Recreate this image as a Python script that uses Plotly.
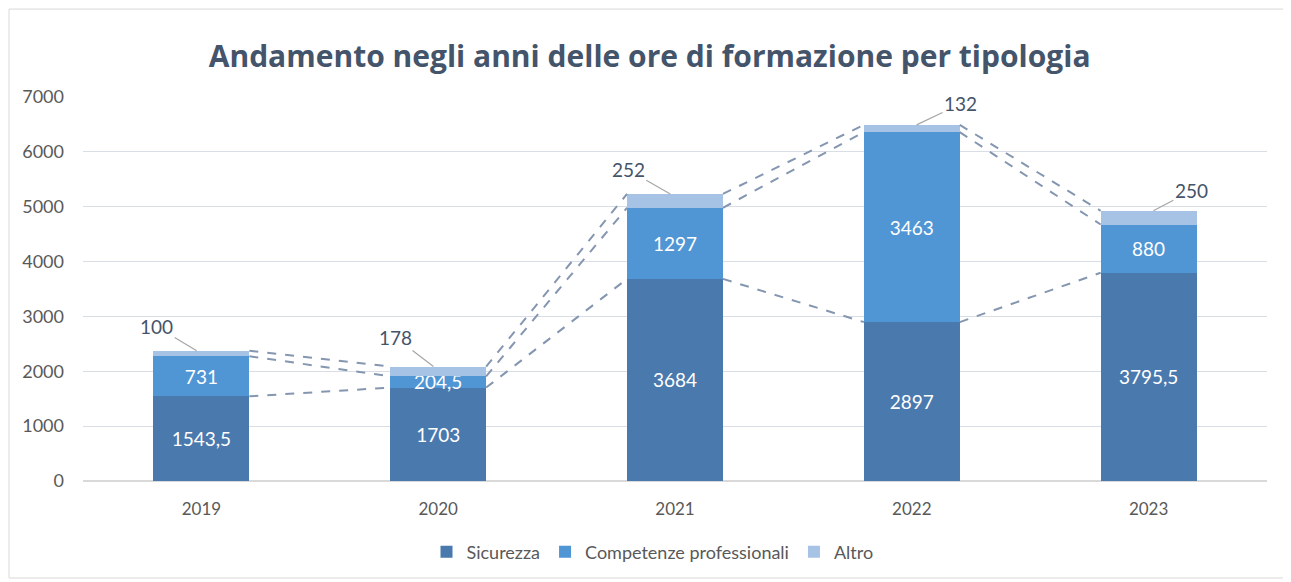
import plotly.graph_objects as go

anni = ["2019", "2020", "2021", "2022", "2023"]
sicurezza = [1543.5, 1703, 3684, 2897, 3795.5]
competenze = [731, 204.5, 1297, 3463, 880]
altro = [100, 178, 252, 132, 250]

# offset in pixel delle etichette "Altro" (ax, ay)
label_offsets = [(-40, -24), (-38, -29), (-42, -24), (44, -21), (38, -20)]

bar_w = 0.405
xs = list(range(len(anni)))


def fmt(v):
    return f"{v:g}".replace(".", ",")


fig = go.Figure()

# series lines tratteggiate tra le barre
tot1 = sicurezza
tot2 = [a + b for a, b in zip(sicurezza, competenze)]
tot3 = [a + b for a, b in zip(tot2, altro)]
for level in [tot1, tot2, tot3]:
    lx, ly = [], []
    for i in range(len(anni) - 1):
        lx += [xs[i] + bar_w / 2, xs[i + 1] - bar_w / 2, None]
        ly += [level[i], level[i + 1], None]
    fig.add_trace(go.Scatter(x=lx, y=ly, mode="lines", showlegend=False,
                             hoverinfo="skip",
                             line=dict(color="#8496b0", width=2, dash="dash")))

fig.add_trace(go.Bar(x=xs, y=sicurezza, name="Sicurezza", width=bar_w,
                     marker=dict(color="#4a79ad", line=dict(width=0)),
                     text=[fmt(v) for v in sicurezza], textposition="inside",
                     insidetextanchor="middle", constraintext="none",
                     textfont=dict(color="white", size=19)))
fig.add_trace(go.Bar(x=xs, y=competenze, name="Competenze professionali", width=bar_w,
                     marker=dict(color="#5095d4", line=dict(width=0)),
                     text=[fmt(v) for v in competenze], textposition="inside",
                     insidetextanchor="middle", constraintext="none",
                     textfont=dict(color="white", size=19)))
fig.add_trace(go.Bar(x=xs, y=altro, name="Altro", width=bar_w,
                     marker=dict(color="#a6c2e5", line=dict(width=0)),
                     textposition="none"))

for i, t in enumerate(tot3):
    ax, ay = label_offsets[i]
    fig.add_annotation(x=xs[i] - 0.02 if ax < 0 else xs[i] + 0.02, y=t,
                       text=fmt(altro[i]),
                       showarrow=True, arrowhead=0, arrowwidth=1.2,
                       arrowcolor="#a6a6a6", ax=ax, ay=ay, standoff=0,
                       font=dict(size=19, color="#44546a"))

fig.update_layout(
    barmode="stack",
    width=1291, height=582,
    margin=dict(l=75, r=32, t=89, b=109),
    paper_bgcolor="white", plot_bgcolor="white",
    font=dict(family="Lato, Open Sans, sans-serif", color="#595959"),
    title=dict(text="<b>Andamento negli anni delle ore di formazione per tipologia</b>",
               x=0.497, xanchor="center", y=0.916, yanchor="middle",
               font=dict(size=30, color="#44546a", family="Open Sans, sans-serif")),
    xaxis=dict(tickvals=xs, ticktext=anni, range=[-0.5, len(anni) - 0.5],
               showgrid=False, zeroline=False, showline=False,
               tickfont=dict(size=17, color="#595959"), ticks="",
               ticklabelstandoff=16),
    yaxis=dict(range=[0, 7000], dtick=1000, showgrid=True,
               gridcolor="#d9dde6", gridwidth=1.2, zeroline=True,
               zerolinecolor="#d9d9d9", zerolinewidth=1.5,
               tickfont=dict(size=18, color="#595959"), ticks="",
               ticklabelstandoff=18),
    legend=dict(orientation="h", x=0.481, xanchor="center", y=-0.185,
                yanchor="middle", font=dict(size=18, color="#595959"),
                traceorder="normal", itemwidth=30),
    showlegend=True,
)

fig.add_shape(type="rect", xref="paper", yref="paper",
              x0=-0.0625, x1=1.0143, y0=-0.2526, y1=1.229,
              line=dict(color="#d9d9d9", width=1))

fig.write_html("out.html")
